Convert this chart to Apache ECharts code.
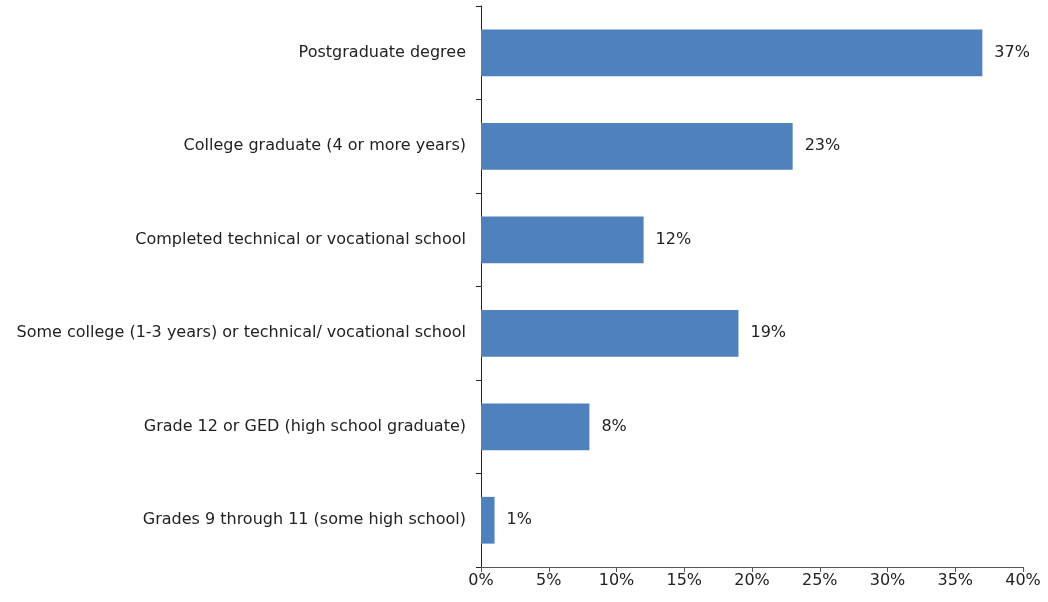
<!DOCTYPE html>
<html>
<head>
<meta charset="utf-8">
<script src="https://cdn.jsdelivr.net/npm/echarts@6/dist/echarts.min.js"></script>
<style>
  html, body { margin: 0; padding: 0; background: #fff; }
  #main { width: 1048px; height: 602px; }
</style>
</head>
<body>
<div id="main"></div>
<script>
var categories = [
  'Postgraduate degree',
  'College graduate (4 or more years)',
  'Completed technical or vocational school',
  'Some college (1-3 years) or technical/ vocational school',
  'Grade 12 or GED (high school graduate)',
  'Grades 9 through 11 (some high school)'
];
var values = [37, 23, 12, 19, 8, 1];

var chart = echarts.init(document.getElementById('main'), null, { renderer: 'canvas' });

var option = {
  animation: false,
  textStyle: { fontFamily: 'DejaVu Sans, sans-serif' },
  grid: {
    left: 481,
    right: 25,
    top: 6,
    bottom: 35,
    containLabel: false
  },
  xAxis: {
    type: 'value',
    min: 0,
    max: 40,
    interval: 5,
    axisLine: { show: true, lineStyle: { color: '#555', width: 1 } },
    axisTick: { show: true, length: 5, lineStyle: { color: '#555' } },
    axisLabel: {
      color: '#222',
      fontSize: 16,
      margin: 6,
      formatter: '{value}%'
    },
    splitLine: { show: false }
  },
  yAxis: {
    type: 'category',
    inverse: true,
    data: categories,
    axisLine: { show: true, lineStyle: { color: '#222', width: 1 } },
    axisTick: { show: true, length: 5, lineStyle: { color: '#222' } },
    axisLabel: {
      color: '#222',
      fontSize: 16,
      margin: 15
    }
  },
  series: [
    {
      type: 'bar',
      data: values,
      barCategoryGap: '50%',
      itemStyle: { color: '#4f81bd' },
      label: {
        show: true,
        position: 'right',
        distance: 12,
        color: '#222',
        fontSize: 16,
        formatter: '{c}%'
      }
    }
  ]
};

chart.setOption(option);
window.addEventListener('resize', chart.resize);
</script>
</body>
</html>
